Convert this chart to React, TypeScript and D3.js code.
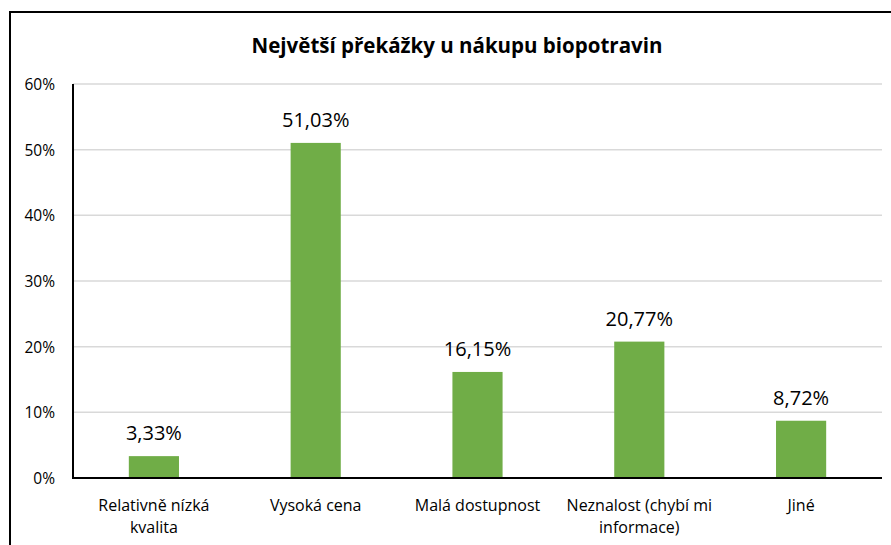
import { useEffect, useRef } from 'react';
import * as d3 from 'd3';

const categories = ['Relativně nízká|kvalita', 'Vysoká cena', 'Malá dostupnost', 'Neznalost (chybí mi|informace)', 'Jiné'];
const values = [3.33, 51.03, 16.15, 20.77, 8.72];
const yTicks = [0, 10, 20, 30, 40, 50, 60];
const title = 'Největší překážky u nákupu biopotravin';

export default function App() {
  const svgRef = useRef<SVGSVGElement>(null);

  useEffect(() => {
    if (!svgRef.current) return;
    const width = 891;
    const height = 545;
    const margin = { top: 84, right: 9, bottom: 67, left: 73 };
    const font = '"Open Sans", Lato, sans-serif';

    const svg = d3.select(svgRef.current);
    svg.selectAll('*').remove();
    svg.attr('width', width).attr('height', height);

    svg.append('rect')
      .attr('x', 10).attr('y', 12)
      .attr('width', width).attr('height', height)
      .attr('fill', 'white')
      .attr('stroke', '#000').attr('stroke-width', 2);

    svg.append('text')
      .attr('x', 457).attr('y', 53)
      .attr('text-anchor', 'middle')
      .attr('font-family', font)
      .attr('font-weight', 'bold')
      .attr('font-size', 20.5)
      .text(title);

    const x = d3.scaleBand()
      .domain(categories)
      .range([margin.left, width - margin.right])
      .paddingInner(0.69)
      .paddingOuter(0.345);

    const y = d3.scaleLinear()
      .domain([0, 60])
      .range([height - margin.bottom, margin.top]);

    const g = svg.append('g');

    g.selectAll('line.grid')
      .data(yTicks.filter(t => t > 0))
      .join('line')
      .attr('class', 'grid')
      .attr('x1', margin.left).attr('x2', width - margin.right)
      .attr('y1', d => y(d)).attr('y2', d => y(d))
      .attr('stroke', '#d9d9d9').attr('stroke-width', 1.5);

    g.selectAll('text.ytick')
      .data(yTicks)
      .join('text')
      .attr('class', 'ytick')
      .attr('x', 55)
      .attr('y', d => y(d) + 6)
      .attr('text-anchor', 'end')
      .attr('font-family', font)
      .attr('font-size', 15.5)
      .attr('fill', '#000')
      .text(d => `${d}%`);

    g.selectAll('rect.bar')
      .data(values)
      .join('rect')
      .attr('class', 'bar')
      .attr('x', (_, i) => x(categories[i])!)
      .attr('width', x.bandwidth())
      .attr('y', d => y(d))
      .attr('height', d => y(0) - y(d))
      .attr('fill', '#70ad47');

    g.selectAll('text.val')
      .data(values)
      .join('text')
      .attr('class', 'val')
      .attr('x', (_, i) => x(categories[i])! + x.bandwidth() / 2)
      .attr('y', d => y(d) - 16)
      .attr('text-anchor', 'middle')
      .attr('font-family', font)
      .attr('font-size', 20)
      .text(d => d.toFixed(2).replace('.', ',') + '%');

    g.append('line')
      .attr('x1', margin.left).attr('x2', margin.left)
      .attr('y1', margin.top).attr('y2', y(0))
      .attr('stroke', '#000').attr('stroke-width', 2);
    g.append('line')
      .attr('x1', margin.left - 1).attr('x2', width - margin.right)
      .attr('y1', y(0)).attr('y2', y(0))
      .attr('stroke', '#000').attr('stroke-width', 2);

    categories.forEach(c => {
      const cx = x(c)! + x.bandwidth() / 2;
      c.split('|').forEach((line, i) => {
        g.append('text')
          .attr('x', cx)
          .attr('y', 511 + i * 22)
          .attr('text-anchor', 'middle')
          .attr('font-family', font)
          .attr('font-size', 16)
          .text(line);
      });
    });
  }, []);

  return <svg ref={svgRef} style={{ position: 'absolute', left: 0, top: 0 }} />;
}
